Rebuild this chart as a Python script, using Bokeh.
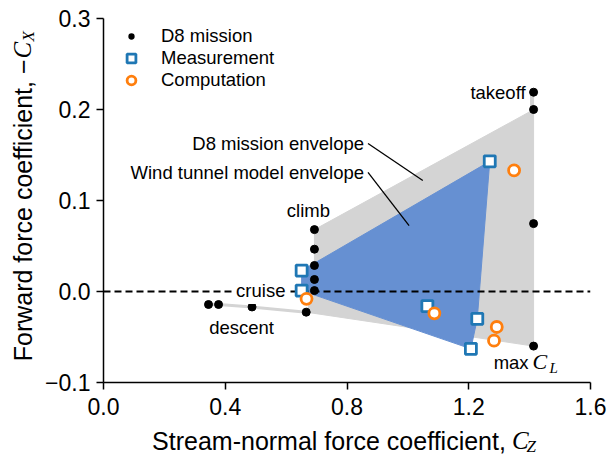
import math

from bokeh.core.properties import value
from bokeh.embed import file_html
from bokeh.layouts import column, row
from bokeh.models import FixedTicker, Label, Legend, LegendItem, Range1d
from bokeh.plotting import figure
from bokeh.resources import INLINE

# D8 mission operating points (stream-normal C_Z, forward -C_X)
mission_cz = [1.413, 1.413, 1.413, 1.413, 0.693, 0.693, 0.693, 0.693, 0.693, 0.666, 0.488, 0.378, 0.345]
mission_cx = [0.219, 0.200, 0.0746, -0.060, 0.068, 0.0465, 0.0286, 0.0132, 0.001, -0.0227, -0.017, -0.0143, -0.0143]

# wind tunnel measurements
meas_cz = [0.651, 0.651, 1.269, 1.064, 1.228, 1.207]
meas_cx = [0.023, 0.001, 0.143, -0.016, -0.030, -0.063]

# computations
comp_cz = [0.667, 1.349, 1.087, 1.292, 1.283]
comp_cx = [-0.008, 0.133, -0.024, -0.039, -0.054]

# D8 mission envelope outline
d8_env_cz = [0.693, 1.403, 1.403, 1.413, 1.413, 0.666, 0.693]
d8_env_cx = [0.068, 0.198, 0.219, 0.219, -0.060, -0.0227, 0.001]

# descent tail of the mission envelope
descent_cz = [0.666, 0.488, 0.378, 0.345]
descent_cx = [-0.0227, -0.017, -0.0143, -0.0143]

# wind tunnel model envelope (outline of the measured points)
wt_env_cz = [0.651, 0.651, 1.269, 1.228, 1.207]
wt_env_cx = [0.001, 0.023, 0.143, -0.030, -0.063]

x_ticks = [0.0, 0.4, 0.8, 1.2, 1.6]
x_tick_labels = ["0.0", "0.4", "0.8", "1.2", "1.6"]
y_ticks = [-0.1, 0.0, 0.1, 0.2, 0.3]
y_tick_labels = ["\u22120.1", "0.0", "0.1", "0.2", "0.3"]

SANS = "Liberation Sans"
SERIF = "Liberation Serif"
GRAY = "#d4d4d4"
BLUE = "#6690d2"
TAB_BLUE = "#1f77b4"
TAB_ORANGE = "#ff7f0e"

LEFT_W = 42      # strip holding the vertical axis title
MAIN_W = 570
MAIN_H = 424
BOTTOM_H = 31    # strip holding the horizontal axis title

# the renderer's "alphabetic" anchor sits about 0.28 em above the drawn baseline
BASE_SHIFT = 0.28

p = figure(
    width=MAIN_W, height=MAIN_H,
    x_range=Range1d(0.0, 1.6), y_range=Range1d(-0.1, 0.3),
    output_backend="svg", toolbar_location=None,
    min_border_left=60, min_border_right=22,
    min_border_top=18, min_border_bottom=42,
)
p.outline_line_color = None
p.grid.visible = False

for ax, ticks, labels in ((p.xaxis, x_ticks, x_tick_labels), (p.yaxis, y_ticks, y_tick_labels)):
    ax.ticker = FixedTicker(ticks=ticks)
    ax.major_label_overrides = dict(zip(ticks, labels))
    ax.axis_line_width = 1.5
    ax.axis_line_color = "black"
    ax.major_tick_line_width = 1.5
    ax.major_tick_line_color = "black"
    ax.major_tick_in = 0
    ax.major_tick_out = 7
    ax.minor_tick_line_color = None
    ax.major_label_text_font = SANS
    ax.major_label_text_font_size = "23px"
    ax.major_label_text_color = "black"
p.xaxis.major_label_standoff = 8
p.yaxis.major_label_standoff = 6

# envelopes
p.patch(d8_env_cz, d8_env_cx, fill_color=GRAY, line_color=GRAY, line_width=1)
p.line(descent_cz, descent_cx, line_color=GRAY, line_width=3)
p.patch(wt_env_cz, wt_env_cx, fill_color=BLUE, line_color=BLUE, line_width=1)

# zero-force reference line
p.line([0.0, 1.6], [0.0, 0.0], line_color="black", line_width=2.2, line_dash="7 4")

# leader lines for the envelope labels
lead_x0 = [0.869, 0.869]
lead_y0 = [0.1626, 0.131]
lead_x1 = [1.049, 1.004]
lead_y1 = [0.122, 0.0725]
p.segment(lead_x0, lead_y0, lead_x1, lead_y1, line_color="black", line_width=1.3)

r_mission = p.scatter(mission_cz, mission_cx, marker="circle", size=8,
                      fill_color="black", line_color="black")
r_meas = p.scatter(meas_cz, meas_cx, marker="square", size=11,
                   fill_color="white", line_color=TAB_BLUE, line_width=2.8)
r_comp = p.scatter(comp_cz, comp_cx, marker="circle", size=11,
                   fill_color="white", line_color=TAB_ORANGE, line_width=2.8)

# legend key for the mission dots: a smaller dot than the default key box
r_mission_key = p.scatter([math.nan], [math.nan], marker="circle", fill_color="black",
                          line_color="white", line_width=2.5)

legend = Legend(
    items=[
        LegendItem(label="D8 mission", renderers=[r_mission_key]),
        LegendItem(label="Measurement", renderers=[r_meas]),
        LegendItem(label="Computation", renderers=[r_comp]),
    ],
    location=(13, 291),
    glyph_width=30, glyph_height=22, label_height=22, label_standoff=15,
    spacing=0, padding=0, margin=0,
    border_line_color=None, background_fill_alpha=0,
    label_text_font=SANS, label_text_font_size="18.5px", label_text_color="black",
)
p.add_layout(legend)

ANN = dict(text_font=SANS, text_font_size="18.5px", text_color="black")

# phase annotations, anchored on the mission points
p.add_layout(Label(x=mission_cz[0], y=mission_cx[0], text="takeoff", text_align="right",
                   text_baseline="middle", x_offset=-8, **ANN))
p.add_layout(Label(x=mission_cz[4], y=mission_cx[4], text="climb", text_align="center",
                   text_baseline="middle", x_offset=-6, y_offset=19, **ANN))
p.add_layout(Label(x=mission_cz[8], y=mission_cx[8], text="cruise", text_align="right",
                   text_baseline="middle", x_offset=-26, padding=3,
                   background_fill_color="white", **ANN))
p.add_layout(Label(x=mission_cz[11], y=mission_cx[11], text="descent", text_align="center",
                   text_baseline="middle", x_offset=23, y_offset=-23, **ANN))

# max C_L, set on a common baseline 22 px below the point
ml_base = 22
p.add_layout(Label(x=mission_cz[3], y=mission_cx[3], text="max", text_align="right",
                   text_baseline="alphabetic", x_offset=-5,
                   y_offset=-ml_base + BASE_SHIFT * 18.5, **ANN))
p.add_layout(Label(x=mission_cz[3], y=mission_cx[3], text="C", text_align="left",
                   text_baseline="alphabetic", x_offset=-1,
                   y_offset=-ml_base + BASE_SHIFT * 22, text_color="black",
                   text_font=SERIF, text_font_style="italic", text_font_size="22px"))
p.add_layout(Label(x=mission_cz[3], y=mission_cx[3], text="L", text_align="left",
                   text_baseline="alphabetic", x_offset=16,
                   y_offset=-ml_base - 4 + BASE_SHIFT * 15, text_color="black",
                   text_font=SERIF, text_font_style="italic", text_font_size="15px"))

# envelope labels
p.add_layout(Label(x=lead_x0[0], y=lead_y0[0], text="D8 mission envelope", text_align="right",
                   text_baseline="middle", x_offset=-4, **ANN))
p.add_layout(Label(x=lead_x0[1], y=lead_y0[1], text="Wind tunnel model envelope", text_align="right",
                   text_baseline="middle", x_offset=-4, **ANN))


def title_strip(w, h):
    f = figure(width=w, height=h, x_range=Range1d(0, w), y_range=Range1d(0, h),
               output_backend="svg", toolbar_location=None,
               x_axis_location=None, y_axis_location=None, min_border=0)
    f.outline_line_color = None
    f.grid.visible = False
    return f


TITLE_FS = 25
MATH_FS = 25
SUB_FS = 17
SUB_DROP = 4

# horizontal axis title: plain part, italic C, subscript Z
bottom = title_strip(MAIN_W, BOTTOM_H)
xj, xb = 478, 8          # start of the symbol, drawn baseline (px above strip bottom)
bottom.text([xj - 7], [xb + BASE_SHIFT * TITLE_FS], text=["Stream-normal force coefficient,"],
            text_align="right", text_baseline="alphabetic", text_font=value(SANS),
            text_font_size=value(f"{TITLE_FS}px"), text_color="black")
bottom.text([xj], [xb + BASE_SHIFT * MATH_FS], text=["C"], text_align="left",
            text_baseline="alphabetic", text_font=value(SERIF), text_font_style=value("italic"),
            text_font_size=value(f"{MATH_FS}px"), text_color="black")
bottom.text([xj + 17], [xb - SUB_DROP + BASE_SHIFT * SUB_FS], text=["Z"], text_align="left",
            text_baseline="alphabetic", text_font=value(SERIF), text_font_style=value("italic"),
            text_font_size=value(f"{SUB_FS}px"), text_color="black")

# vertical axis title, rotated to read upward
left = title_strip(LEFT_W, MAIN_H + BOTTOM_H)
yj, yb = 396, 29         # start of the symbol, drawn baseline (px from strip left)
left.text([yb - BASE_SHIFT * TITLE_FS], [yj], text=["Forward force coefficient, \u2212"],
          angle=math.pi / 2, text_align="right", text_baseline="alphabetic",
          text_font=value(SANS), text_font_size=value(f"{TITLE_FS}px"), text_color="black")
left.text([yb - BASE_SHIFT * MATH_FS], [yj + 1], text=["C"], angle=math.pi / 2,
          text_align="left", text_baseline="alphabetic", text_font=value(SERIF),
          text_font_style=value("italic"), text_font_size=value(f"{MATH_FS}px"),
          text_color="black")
left.text([yb + SUB_DROP - BASE_SHIFT * SUB_FS], [yj + 18], text=["X"], angle=math.pi / 2,
          text_align="left", text_baseline="alphabetic", text_font=value(SERIF),
          text_font_style=value("italic"), text_font_size=value(f"{SUB_FS}px"),
          text_color="black")

layout = row(left, column(p, bottom, spacing=0), spacing=0)

open("out.html", "w").write(file_html(layout, INLINE))
